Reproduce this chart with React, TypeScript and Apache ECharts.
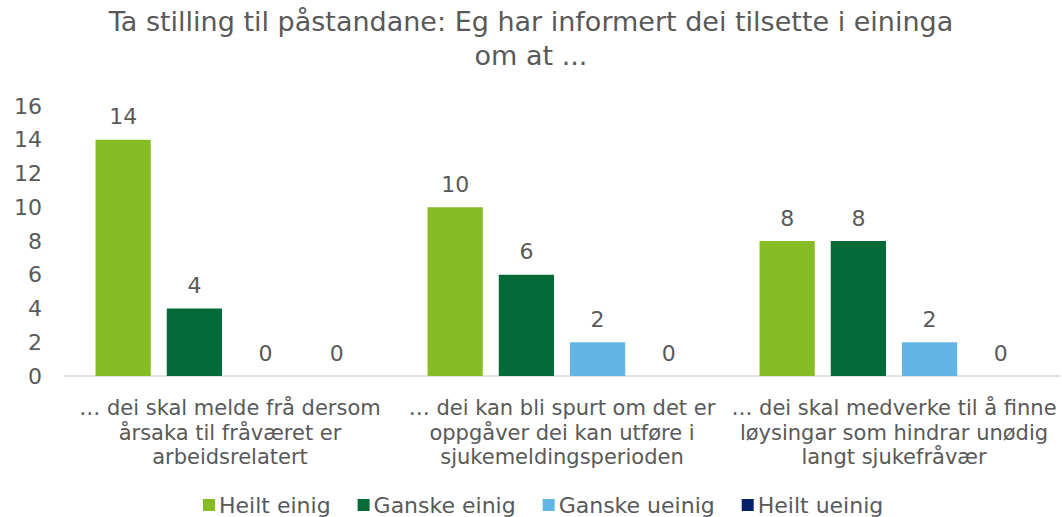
import React, { useEffect, useRef } from "react";
import * as echarts from "echarts";

const categories = [
  "… dei skal melde frå dersom\nårsaka til fråværet er\narbeidsrelatert",
  "… dei kan bli spurt om det er\noppgåver dei kan utføre i\nsjukemeldingsperioden",
  "… dei skal medverke til å finne\nløysingar som hindrar unødig\nlangt sjukefråvær",
];
const seriesNames = ["Heilt einig", "Ganske einig", "Ganske ueinig", "Heilt ueinig"];
const heiltEinig = [14, 10, 8];
const ganskeEinig = [4, 6, 8];
const ganskeUeinig = [0, 2, 2];
const heiltUeinig = [0, 0, 0];
const colors = ["#86BC25", "#046A38", "#62B5E5", "#012169"];

const FONT = "'DejaVu Sans', Verdana, sans-serif";
const TXT = "#595959";

export default function App() {
  const ref = useRef<HTMLDivElement>(null);
  useEffect(() => {
    const chart = echarts.init(ref.current!, undefined, { renderer: "svg" });
    const data = [heiltEinig, ganskeEinig, ganskeUeinig, heiltUeinig];
    chart.setOption({
      animation: false,
      textStyle: { fontFamily: FONT },
      title: {
        text: "Ta stilling til påstandane: Eg har informert dei tilsette i eininga\nom at ...",
        left: "center",
        top: 0,
        padding: [4, 0, 0, 36],
        textStyle: { fontFamily: FONT, fontSize: 27, fontWeight: "normal", color: TXT, lineHeight: 34 },
      },
      legend: {
        top: 494,
        left: 203,
        padding: 0,
        itemWidth: 12,
        itemHeight: 12,
        itemGap: 27,
        icon: "rect",
        textStyle: { fontFamily: FONT, fontSize: 22, color: TXT, padding: [0, 0, 0, -1] },
        data: seriesNames,
      },
      grid: { left: 64, right: 2, top: 106, bottom: 141, containLabel: false },
      xAxis: {
        type: "category",
        data: categories,
        axisTick: { show: false },
        axisLine: { lineStyle: { color: "#D9D9D9", width: 1.5 } },
        axisLabel: { fontFamily: FONT, fontSize: 21, color: TXT, lineHeight: 24.5, margin: 20, interval: 0 },
      },
      yAxis: {
        type: "value",
        min: 0,
        max: 16,
        interval: 2,
        splitLine: { show: false },
        axisLine: { show: false },
        axisLabel: { fontFamily: FONT, fontSize: 22, color: TXT, margin: 22 },
      },
      series: seriesNames.map((name, i) => ({
        name,
        type: "bar",
        data: data[i],
        barGap: "29%",
        barCategoryGap: "19%",
        itemStyle: { color: colors[i] },
        label: {
          show: true,
          position: "top",
          distance: 12,
          fontFamily: FONT,
          fontSize: 22,
          color: TXT,
        },
      })),
    });
    return () => chart.dispose();
  }, []);
  return <div ref={ref} style={{ width: 1062, height: 517, position: "absolute", left: 0, top: 0 }} />;
}
